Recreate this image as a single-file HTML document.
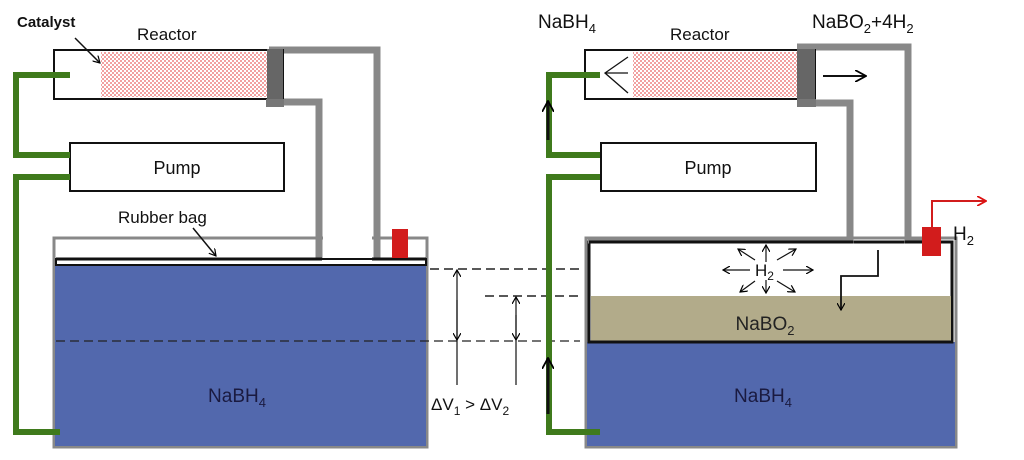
<!DOCTYPE html>
<html><head><meta charset="utf-8"><style>html,body{margin:0;padding:0;background:#fff;}svg{display:block}text{font-family:"Liberation Sans",Arial,sans-serif}</style></head>
<body>
<svg width="1024" height="460" viewBox="0 0 1024 460" xmlns="http://www.w3.org/2000/svg">
<defs>
<pattern id="hatch" width="4" height="4" patternUnits="userSpaceOnUse">
<rect width="4" height="4" fill="#fff"/>
<rect width="2" height="2" fill="#f2a0a0"/><rect x="2" y="2" width="2" height="2" fill="#f2a0a0"/>
</pattern>
<marker id="ah" markerWidth="8" markerHeight="8" refX="7" refY="4" orient="auto" markerUnits="userSpaceOnUse"><path d="M0,0 L7,4 L0,8" fill="none" stroke="#000" stroke-width="1.2"/></marker>
<marker id="ahr" markerWidth="10" markerHeight="10" refX="9" refY="5" orient="auto" markerUnits="userSpaceOnUse"><path d="M0,0 L9,5 L0,10" fill="none" stroke="#d11" stroke-width="1.8"/></marker>
<marker id="ahb" markerWidth="12" markerHeight="12" refX="11" refY="6" orient="auto" markerUnits="userSpaceOnUse"><path d="M0,0 L11,6 L0,12" fill="none" stroke="#000" stroke-width="1.8"/></marker>
</defs>

<!-- LEFT -->
<rect x="54" y="238" width="373" height="209" fill="#fff" stroke="#888" stroke-width="3"/>
<rect x="55" y="266" width="371" height="180" fill="#5268ad"/>
<rect x="56" y="259" width="370" height="6" fill="#fff" stroke="#111" stroke-width="2"/>
<rect x="323" y="235" width="49" height="23" fill="#fff"/>
<!-- gray pipes left -->
<path d="M269,50 H377 V258" fill="none" stroke="#888" stroke-width="7"/>
<path d="M269,102 H319 V258" fill="none" stroke="#888" stroke-width="7"/>
<line x1="372" y1="259" x2="426" y2="259" stroke="#111" stroke-width="3"/>
<line x1="56" y1="259" x2="322" y2="259" stroke="#111" stroke-width="3"/>
<rect x="392" y="229" width="16" height="29" fill="#d21c1c"/>
<!-- reactor left -->
<rect x="54" y="50" width="229" height="49" fill="#fff" stroke="#111" stroke-width="2"/>
<rect x="101" y="52" width="166" height="45" fill="url(#hatch)"/>
<rect x="267" y="49" width="16" height="52" fill="#666"/>
<rect x="266" y="99" width="18" height="8" fill="#777"/>
<rect x="70" y="143" width="214" height="48" fill="#fff" stroke="#111" stroke-width="2"/>
<!-- green left -->
<path d="M70,75 H16 V155 H70" fill="none" stroke="#3f7a1c" stroke-width="6"/>
<path d="M70,177 H16 V432 H60" fill="none" stroke="#3f7a1c" stroke-width="6"/>
<text x="17" y="27" font-size="15" font-weight="bold" fill="#111">Catalyst</text>
<line x1="75" y1="38" x2="100" y2="63" stroke="#111" stroke-width="1.5" marker-end="url(#ah)"/>
<text x="137" y="40" font-size="17" fill="#111">Reactor</text>
<text x="177" y="174" font-size="18" text-anchor="middle" fill="#111">Pump</text>
<text x="118" y="223" font-size="17" fill="#111">Rubber bag</text>
<line x1="193" y1="228" x2="216" y2="256" stroke="#111" stroke-width="1.5" marker-end="url(#ah)"/>
<text x="237" y="402" font-size="19" text-anchor="middle" fill="#1a1a40">NaBH<tspan font-size="13" dy="5">4</tspan></text>

<!-- dashed -->
<line x1="430" y1="269" x2="580" y2="269" stroke="#222" stroke-width="1.5" stroke-dasharray="9,5"/>
<line x1="485" y1="296" x2="580" y2="296" stroke="#222" stroke-width="1.5" stroke-dasharray="9,5"/>
<line x1="56" y1="341" x2="580" y2="341" stroke="#222" stroke-width="1.2" stroke-dasharray="9,5"/>
<line x1="457" y1="385" x2="457" y2="270" stroke="#111" stroke-width="1.2" marker-end="url(#ah)"/>
<line x1="457" y1="300" x2="457" y2="340" stroke="#111" stroke-width="1.2" marker-end="url(#ah)"/>
<line x1="516" y1="385" x2="516" y2="297" stroke="#111" stroke-width="1.2" marker-end="url(#ah)"/>
<line x1="516" y1="315" x2="516" y2="340" stroke="#111" stroke-width="1.2" marker-end="url(#ah)"/>
<text x="431" y="410" font-size="17" fill="#111">ΔV<tspan font-size="12" dy="5">1</tspan><tspan dy="-5"> &gt; ΔV</tspan><tspan font-size="12" dy="5">2</tspan></text>

<!-- RIGHT -->
<rect x="586" y="238" width="370" height="209" fill="#fff" stroke="#888" stroke-width="3"/>
<rect x="587" y="342" width="368" height="104" fill="#5268ad"/>
<rect x="589" y="242" width="363" height="100" fill="#fff" stroke="#111" stroke-width="3"/>
<rect x="591" y="296" width="360" height="45" fill="#b2ab8a"/>
<line x1="589" y1="342" x2="953" y2="342" stroke="#111" stroke-width="3"/>
<path d="M797,47 H908 V240 H925" fill="none" stroke="#888" stroke-width="7"/>
<path d="M797,103 H850 V240 H588" fill="none" stroke="#888" stroke-width="7"/>
<line x1="589" y1="242" x2="853" y2="242" stroke="#111" stroke-width="3"/>
<line x1="905" y1="242" x2="953" y2="242" stroke="#111" stroke-width="3"/>
<rect x="922" y="227" width="19" height="29" fill="#d21c1c"/>
<path d="M932,228 V201 H986" fill="none" stroke="#d21c1c" stroke-width="2" marker-end="url(#ahr)"/>
<text x="953" y="240" font-size="19" fill="#111">H<tspan font-size="13" dy="5">2</tspan></text>
<!-- reactor right -->
<rect x="585" y="50" width="230" height="49" fill="#fff" stroke="#111" stroke-width="2"/>
<rect x="633" y="52" width="164" height="45" fill="url(#hatch)"/>
<rect x="797" y="49" width="18" height="52" fill="#666"/>
<rect x="797" y="99" width="19" height="8" fill="#777"/>
<path d="M628,57 L605,73 L628,93 M605,73 H628" fill="none" stroke="#111" stroke-width="1.3"/>
<line x1="823" y1="76" x2="866" y2="76" stroke="#111" stroke-width="2" marker-end="url(#ahb)"/>
<rect x="601" y="143" width="215" height="48" fill="#fff" stroke="#111" stroke-width="2"/>
<path d="M600,75 H549 V155 H600" fill="none" stroke="#3f7a1c" stroke-width="6"/>
<path d="M600,177 H549 V432 H600" fill="none" stroke="#3f7a1c" stroke-width="6"/>
<line x1="548" y1="140" x2="548" y2="101" stroke="#111" stroke-width="3" marker-end="url(#ahb)"/>
<line x1="548" y1="414" x2="548" y2="358" stroke="#111" stroke-width="3" marker-end="url(#ahb)"/>
<text x="538" y="28" font-size="19" fill="#111">NaBH<tspan font-size="13" dy="5">4</tspan></text>
<text x="670" y="40" font-size="17" fill="#111">Reactor</text>
<text x="812" y="28" font-size="19" fill="#111">NaBO<tspan font-size="13" dy="5">2</tspan><tspan dy="-5">+4H</tspan><tspan font-size="13" dy="5">2</tspan></text>
<text x="708" y="174" font-size="18" text-anchor="middle" fill="#111">Pump</text>
<!-- H2 burst -->
<text x="755" y="276" font-size="17" fill="#111">H<tspan font-size="12" dy="4">2</tspan></text>
<g stroke="#111" stroke-width="1.2" fill="none">
<line x1="766" y1="262" x2="766" y2="245" marker-end="url(#ah)"/>
<line x1="766" y1="280" x2="766" y2="293" marker-end="url(#ah)"/>
<line x1="750" y1="270" x2="723" y2="270" marker-end="url(#ah)"/>
<line x1="783" y1="270" x2="813" y2="270" marker-end="url(#ah)"/>
<line x1="755" y1="260" x2="738" y2="249" marker-end="url(#ah)"/>
<line x1="777" y1="260" x2="796" y2="249" marker-end="url(#ah)"/>
<line x1="755" y1="281" x2="740" y2="292" marker-end="url(#ah)"/>
<line x1="777" y1="281" x2="795" y2="292" marker-end="url(#ah)"/>
</g>
<path d="M878,250 V276 H841 V310" fill="none" stroke="#111" stroke-width="1.8" marker-end="url(#ah)"/>
<text x="765" y="330" font-size="19" text-anchor="middle" fill="#222">NaBO<tspan font-size="13" dy="5">2</tspan></text>
<text x="763" y="402" font-size="19" text-anchor="middle" fill="#1a1a40">NaBH<tspan font-size="13" dy="5">4</tspan></text>
</svg>
</body></html>
